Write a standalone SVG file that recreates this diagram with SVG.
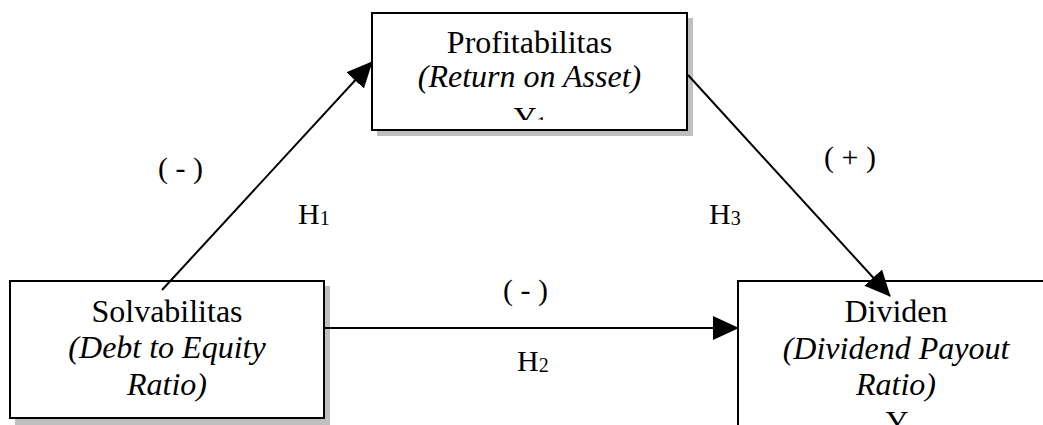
<svg xmlns="http://www.w3.org/2000/svg" width="1043" height="425" viewBox="0 0 1043 425">
<style>
  .box { fill: #ffffff; stroke: #000000; stroke-width: 2; }
  .shadow { fill: #bfbfbf; stroke: none; }
  .t { font-family: "Liberation Serif", "Times New Roman", serif; font-size: 32px; fill: #000; text-anchor: middle; }
  .i { font-style: italic; }
  .lbl { font-family: "Liberation Serif", "Times New Roman", serif; font-size: 30px; fill: #000; }
  .conn { stroke: #000; stroke-width: 2; fill: none; marker-end: url(#arrow); }
</style>
<defs>
  <marker id="arrow" markerUnits="userSpaceOnUse" markerWidth="26" markerHeight="24" refX="25" refY="12" orient="auto">
    <path d="M0,0 L26,12 L0,24 Z" fill="#000"/>
  </marker>
  <clipPath id="clipProfit">
    <rect x="374" y="15" width="311" height="105"/>
  </clipPath>
</defs>
<rect width="1043" height="425" fill="#ffffff"/>

<g id="node-profitabilitas">
  <rect class="shadow" x="377" y="18" width="316" height="118"/>
  <rect class="box" x="372" y="13" width="315" height="117"/>
  <g clip-path="url(#clipProfit)">
    <text class="t" x="529.5" y="53">Profitabilitas</text>
    <text class="t i" x="529.5" y="87">(Return on Asset)</text>
    <text class="t" x="530" y="128.5">Y<tspan font-size="20" dy="2">1</tspan></text>
  </g>
</g>

<g id="node-solvabilitas">
  <rect class="shadow" x="15" y="286" width="315" height="139"/>
  <rect class="box" x="10" y="281" width="314" height="137"/>
  <text class="t" x="167" y="322">Solvabilitas</text>
  <text class="t i" x="167" y="358">(Debt to Equity</text>
  <text class="t i" x="167" y="395">Ratio)</text>
</g>

<g id="node-dividen">
  <rect class="box" x="738" y="281" width="316" height="160"/>
  <text class="t" x="896" y="322">Dividen</text>
  <text class="t i" x="896" y="359">(Dividend Payout</text>
  <text class="t i" x="896" y="395">Ratio)</text>
  <text class="t" x="897" y="433">Y</text>
</g>

<g id="connectors">
  <line class="conn" x1="162" y1="290" x2="372" y2="62"/>
  <line class="conn" x1="324" y1="328" x2="738" y2="328"/>
  <line class="conn" x1="688" y1="75" x2="890" y2="296"/>
</g>

<g id="labels">
  <text class="lbl" x="180.5" y="178" text-anchor="middle">( - )</text>
  <text class="lbl" x="298" y="224">H<tspan font-size="20" dy="1">1</tspan></text>
  <text class="lbl" x="850" y="167" text-anchor="middle">( + )</text>
  <text class="lbl" x="709" y="224">H<tspan font-size="20" dy="1">3</tspan></text>
  <text class="lbl" x="525.5" y="300" text-anchor="middle">( - )</text>
  <text class="lbl" x="517" y="371">H<tspan font-size="20" dy="1">2</tspan></text>
</g>
</svg>
